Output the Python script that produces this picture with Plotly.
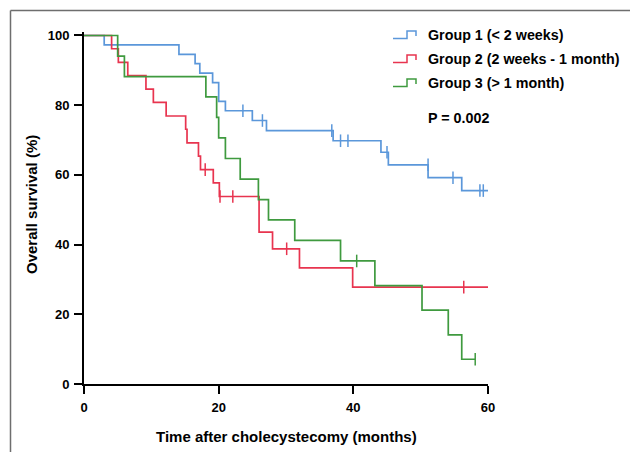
import plotly.graph_objects as go

# ---------------- data ----------------
g1_time = [0, 3.0, 14.1, 16.5, 17.2, 19.1, 20.0, 21.0, 25.0, 27.1, 37.0, 44.1, 45.2, 51.1, 56.1, 60]
g1_surv = [100, 97.3, 94.6, 91.9, 89.2, 86.5, 81.1, 78.4, 75.6, 72.7, 69.8, 66.5, 62.9, 59.2, 55.5, 55.5]
g1_cens_time = [23.6, 26.5, 36.8, 38.1, 39.2, 45.0, 51.1, 54.8, 58.8, 59.3]
g1_cens_surv = [78.4, 75.6, 72.7, 69.8, 69.8, 66.5, 62.9, 59.2, 55.5, 55.5]

g2_time = [0, 4.1, 5.1, 6.5, 9.2, 10.3, 12.2, 15.1, 15.3, 17.0, 17.3, 19.2, 20.1, 26.0, 28.0, 32.0, 39.9, 60]
g2_surv = [100, 96.2, 92.3, 88.5, 84.6, 80.8, 76.9, 73.1, 69.2, 65.4, 61.5, 57.7, 53.8, 43.6, 38.8, 33.3, 27.8, 27.8]
g2_cens_time = [18.0, 20.2, 22.1, 30.1, 56.4]
g2_cens_surv = [61.5, 53.8, 53.8, 38.8, 27.8]

g3_time = [0, 5.0, 6.0, 18.1, 19.7, 20.0, 21.0, 23.2, 25.9, 27.4, 31.3, 38.1, 43.2, 50.2, 54.1, 56.1, 58.1]
g3_surv = [100, 94.1, 88.2, 82.4, 76.5, 70.6, 64.7, 58.8, 52.9, 47.1, 41.2, 35.3, 28.2, 21.2, 14.1, 7.1, 7.1]
g3_cens_time = [40.5, 58.1]
g3_cens_surv = [35.3, 7.1]

group_names = ["Group 1 (< 2 weeks)", "Group 2 (2 weeks - 1 month)", "Group 3 (> 1 month)"]
p_text = "P = 0.002"
x_ticks = [0, 20, 40, 60]
y_ticks = [0, 20, 40, 60, 80, 100]
x_title = "Time after cholecystecomy (months)"
y_title = "Overall survival (%)"

colors = ["#5b97da", "#e8344f", "#3f9a3f"]
FONT = "Liberation Sans, Arial, sans-serif"

# ---------------- layout geometry (pixels) ----------------
W, H = 630, 452
L, R, T, B = 84, 142, 32, 68
PW, PH = W - L - R, H - T - B


def px(xp):
    return (xp - L) / PW


def py(yp):
    return (H - B - yp) / PH


fig = go.Figure()
series = [
    (g1_time, g1_surv, g1_cens_time, g1_cens_surv),
    (g2_time, g2_surv, g2_cens_time, g2_cens_surv),
    (g3_time, g3_surv, g3_cens_time, g3_cens_surv),
]
for (t, s, ct, cs), c, name in zip(series, colors, group_names):
    fig.add_trace(go.Scatter(x=t, y=s, mode="lines", line=dict(color=c, width=1.7, shape="hv"),
                             name=name, showlegend=False))
    fig.add_trace(go.Scatter(x=ct, y=cs, mode="markers",
                             marker=dict(symbol="line-ns", size=9, line=dict(width=1.5, color=c)),
                             showlegend=False))

axis_common = dict(showline=True, linecolor="black", linewidth=2, ticks="outside", ticklen=8,
                   tickwidth=2, tickcolor="black", showgrid=False, zeroline=False,
                   ticklabelstandoff=2,
                   tickfont=dict(family=FONT, size=13, color="black", weight="bold"))
fig.update_xaxes(range=[0, 60], tickvals=x_ticks, **axis_common)
fig.update_yaxes(range=[0, 101], tickvals=y_ticks, **axis_common)

shapes = []
# outer frame (top and left edges of the figure border)
shapes.append(dict(type="line", xref="paper", yref="paper", x0=px(10.5), x1=px(W + 5), y0=py(10.5), y1=py(10.5),
                   line=dict(color="#6e6e6e", width=1.5)))
shapes.append(dict(type="line", xref="paper", yref="paper", x0=px(10.5), x1=px(10.5), y0=py(10.5), y1=py(H + 5),
                   line=dict(color="#6e6e6e", width=1.5)))

annotations = []
legend_y = [35, 59, 83]
for yc, c, name in zip(legend_y, colors, group_names):
    path = "M {} {} L {} {} L {} {} L {} {} L {} {}".format(
        px(393), py(yc + 3.5), px(407), py(yc + 3.5), px(407), py(yc - 4), px(416), py(yc - 4), px(416), py(yc + 1))
    shapes.append(dict(type="path", xref="paper", yref="paper", path=path, line=dict(color=c, width=1.5)))
    annotations.append(dict(xref="paper", yref="paper", x=px(426), y=py(yc), xanchor="left", yanchor="middle",
                            text=name, showarrow=False,
                            font=dict(family=FONT, size=14.3, color="black", weight="bold")))
annotations.append(dict(xref="paper", yref="paper", x=px(426), y=py(118), xanchor="left", yanchor="middle",
                        text=p_text, showarrow=False,
                        font=dict(family=FONT, size=14.3, color="black", weight="bold")))
annotations.append(dict(xref="paper", yref="paper", x=px(286), y=py(436), xanchor="center", yanchor="middle",
                        text=x_title, showarrow=False,
                        font=dict(family=FONT, size=15, color="black", weight="bold")))
annotations.append(dict(xref="paper", yref="paper", x=px(31), y=py(205), xanchor="center", yanchor="middle",
                        text=y_title, showarrow=False, textangle=-90,
                        font=dict(family=FONT, size=15, color="black", weight="bold")))

fig.update_layout(width=W, height=H, margin=dict(l=L, r=R, t=T, b=B, pad=0),
                  paper_bgcolor="white", plot_bgcolor="white",
                  shapes=shapes, annotations=annotations, showlegend=False)

fig.write_html("out.html", config={"displayModeBar": False},
               post_script="document.body.style.margin='0';document.body.style.overflow='hidden';")
